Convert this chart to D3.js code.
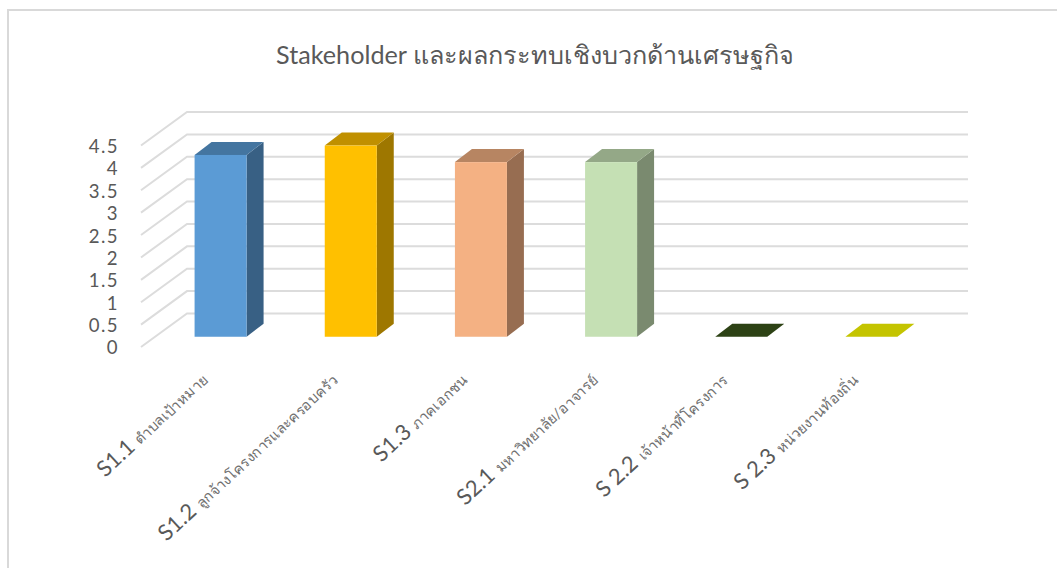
<!DOCTYPE html>
<html>
<head>
<meta charset="utf-8">
<script src="https://cdnjs.cloudflare.com/ajax/libs/d3/7.8.5/d3.min.js"></script>
<style>
html, body { margin: 0; padding: 0; background: #fff; }
svg { display: block; }
text { font-family: "Lato", "Noto Sans", sans-serif; }
</style>
</head>
<body>
<script>
// chart values
var titleText = "Stakeholder และผลกระทบเชิงบวกด้านเศรษฐกิจ";
var codes = ["S1.1", "S1.2", "S1.3", "S2.1", "S 2.2", "S 2.3"];
var names = ["ตำบลเป้าหมาย", "ลูกจ้างโครงการและครอบครัว", "ภาคเอกชน", "มหาวิทยาลัย/อาจารย์", "เจ้าหน้าที่โครงการ", "หน่วยงานท้องถิ่น"];
var values = [4.06, 4.27, 3.9, 3.9, 0, 0];
var yTicks = [0, 0.5, 1, 1.5, 2, 2.5, 3, 3.5, 4, 4.5];
var frontColors = ["#5b9bd5", "#ffc000", "#f4b183", "#c5e0b4", "#2d4215", "#c4c400"];

var width = 1057, height = 568;

var svg = d3.select("body").append("svg")
  .attr("width", width)
  .attr("height", height);

// chart frame, only top and left edges are inside the picture
svg.append("rect")
  .attr("x", 8).attr("y", 10)
  .attr("width", 1100).attr("height", 600)
  .attr("fill", "#fff")
  .attr("stroke", "#d9d9d9")
  .attr("stroke-width", 2);

// set the ranges (front plane of the 3d box)
var x = d3.scaleBand().domain(codes).range([141, 922]);
var y = d3.scaleLinear().domain([0, 4.5]).range([347, 145.5]);

// depth of the box and of the bars
var wallDx = 46, wallDy = -33.5;
var barDx = 17, barDy = -13;
var barW = 52;

// walls
var grid = svg.append("g").attr("class", "grid");
grid.selectAll("path").data(yTicks).enter().append("path")
  .attr("fill", "none")
  .attr("stroke", "#dcdcdc")
  .attr("stroke-width", 2)
  .attr("d", function(d) {
    return "M" + x.range()[0] + "," + y(d) +
      "L" + (x.range()[0] + wallDx) + "," + (y(d) + wallDy) +
      "L" + (x.range()[1] + wallDx) + "," + (y(d) + wallDy);
  });

// bars: offset to the middle of the box depth
var offX = (wallDx - barDx) / 2, offY = (wallDy - barDy) / 2;

function left(i) { return x(codes[i]) + (x.bandwidth() - barW) / 2 + offX; }
function bottom() { return y(0) + offY; }
function top_(i) { return y(values[i]) + offY; }

function poly(pts) { return pts.map(function(p) { return p.join(","); }).join(" "); }

var bars = svg.append("g").selectAll("g").data(values).enter().append("g");

// side
bars.filter(function(d) { return d > 0; }).append("polygon")
  .attr("fill", function(d, i) { return d3.color(frontColors[i]).darker(1.35); })
  .attr("points", function(d, i) {
    var r = left(i) + barW;
    return poly([[r, top_(i)], [r + barDx, top_(i) + barDy], [r + barDx, bottom() + barDy], [r, bottom()]]);
  });

// top
bars.append("polygon")
  .attr("fill", function(d, i) { return d > 0 ? d3.color(frontColors[i]).darker(0.8) : frontColors[i]; })
  .attr("points", function(d, i) {
    var l = left(i), t = top_(i);
    return poly([[l, t], [l + barDx, t + barDy], [l + barW + barDx, t + barDy], [l + barW, t]]);
  });

// front
bars.filter(function(d) { return d > 0; }).append("rect")
  .attr("fill", function(d, i) { return frontColors[i]; })
  .attr("x", function(d, i) { return left(i); })
  .attr("y", function(d, i) { return top_(i); })
  .attr("width", barW)
  .attr("height", function(d, i) { return bottom() - top_(i); });

// Y axis
var yAxis = svg.append("g")
  .attr("transform", "translate(119,1)")
  .call(d3.axisLeft(y).tickValues(yTicks).tickSize(0).tickPadding(0).tickFormat(function(d) { return d; }));
yAxis.select(".domain").remove();
yAxis.selectAll("text")
  .attr("font-size", 18.6)
  .attr("letter-spacing", 1.4)
  .attr("fill", "#595959");

// X axis, rotated labels with a smaller thai part
var xAxis = svg.append("g")
  .attr("transform", "translate(0,347)")
  .call(d3.axisBottom(x).tickSize(0).tickFormat(""));
xAxis.select(".domain").remove();
var labels = xAxis.selectAll("text")
  .attr("text-anchor", "end")
  .attr("fill", "#595959")
  .attr("transform", "translate(0,32) rotate(-43)")
  .attr("y", 0).attr("x", 0).attr("dy", ".35em");
labels.each(function(d, i) {
  var t = d3.select(this);
  t.text(null);
  t.append("tspan").attr("font-size", 22).text(codes[i] + " ");
  t.append("tspan").attr("font-size", 14.5).attr("fill", "#707070").text(names[i]);
});

// title
svg.append("text")
  .attr("x", 535).attr("y", 64)
  .attr("text-anchor", "middle")
  .attr("font-size", 25.2)
  .attr("fill", "#595959")
  .text(titleText);
</script>
</body>
</html>
